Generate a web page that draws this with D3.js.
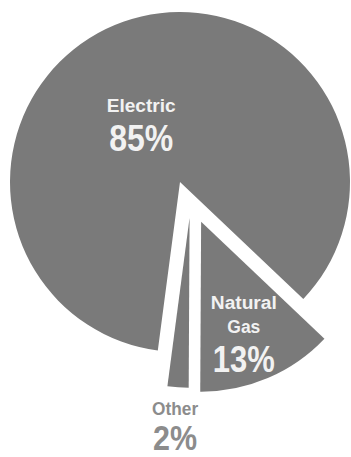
<!DOCTYPE html>
<html>
<head>
<meta charset="utf-8">
<script src="https://cdn.jsdelivr.net/npm/d3@7"></script>
<style>
  html, body { margin: 0; padding: 0; background: #fff; }
  svg { display: block; }
  text { font-family: "Liberation Sans", Arial, sans-serif; font-weight: bold; }
</style>
</head>
<body>
<script>
// Energy source shares (percent)
const categories = ["Natural Gas", "Other", "Electric"];
const shares = [13, 2, 85];
const nameLines = [["Natural", "Gas"], ["Other"], ["Electric"]];
const percentLabels = ["13%", "2%", "85%"];

const W = 351, H = 457;
const cx = 180, cy = 182, R = 170;
const deg = Math.PI / 180;

// Pulled-out slices: distance and direction (degrees, clockwise from 12 o'clock)
const explode = {
  "Natural Gas": { dist: 45, dir: 152 },
  "Other": { dist: 37, dir: 165 },
  "Electric": { dist: 0, dir: 0 }
};

// Label block anchors (polar from pie centre) and text widths
const labelLayout = {
  "Electric":    { ang: 331, dist: 80,  nameW: [69],     pctW: 64, pctSize: 37, nameColor: "#f2f2f2", pctColor: "#f2f2f2", nameSize: 18, lineGap: 24, pctGap: 39 },
  "Natural Gas": { ang: 153.3, dist: 142, nameW: [66, 33], pctW: 62, pctSize: 37, nameColor: "#f2f2f2", pctColor: "#f2f2f2", nameSize: 18, lineGap: 24, pctGap: 39 },
  "Other":       { ang: 181.2, dist: 233, nameW: [46],     pctW: 44, pctSize: 35, nameColor: "#8c8c8c", pctColor: "#8c8c8c", nameSize: 18, lineGap: 24, pctGap: 35 }
};

const sliceFill = "#7a7a7a";

const svg = d3.select("body").append("svg")
  .attr("width", W).attr("height", H);

const start = 133.5 * deg;
const pie = d3.pie().sort(null).value(d => d.value)
  .startAngle(start).endAngle(start + 2 * Math.PI);

const data = categories.map((c, i) => ({ name: c, value: shares[i], lines: nameLines[i], pct: percentLabels[i] }));
const arcs = pie(data);

const arc = d3.arc().innerRadius(0).outerRadius(R);

const g = svg.append("g").attr("transform", `translate(${cx},${cy})`);

g.selectAll("path.slice")
  .data(arcs)
  .join("path")
  .attr("class", "slice")
  .attr("fill", sliceFill)
  .attr("transform", d => {
    const e = explode[d.data.name];
    const a = e.dir * deg;
    return `translate(${e.dist * Math.sin(a)},${-e.dist * Math.cos(a)})`;
  })
  .attr("d", arc);

// Labels
const labels = g.selectAll("g.label")
  .data(arcs)
  .join("g")
  .attr("class", "label")
  .attr("transform", d => {
    const L = labelLayout[d.data.name];
    const a = L.ang * deg;
    return `translate(${L.dist * Math.sin(a)},${-L.dist * Math.cos(a)})`;
  });

labels.each(function(d) {
  const L = labelLayout[d.data.name];
  const sel = d3.select(this);
  d.data.lines.forEach((t, i) => {
    sel.append("text")
      .attr("x", 0).attr("y", i * L.lineGap)
      .attr("text-anchor", "middle")
      .attr("font-size", L.nameSize)
      .attr("fill", L.nameColor)
      .attr("textLength", L.nameW[i])
      .attr("lengthAdjust", "spacingAndGlyphs")
      .text(t);
  });
  sel.append("text")
    .attr("x", 0)
    .attr("y", (d.data.lines.length - 1) * L.lineGap + L.pctGap)
    .attr("text-anchor", "middle")
    .attr("font-size", L.pctSize)
    .attr("fill", L.pctColor)
    .attr("textLength", L.pctW)
    .attr("lengthAdjust", "spacingAndGlyphs")
    .text(d.data.pct);
});
</script>
</body>
</html>
